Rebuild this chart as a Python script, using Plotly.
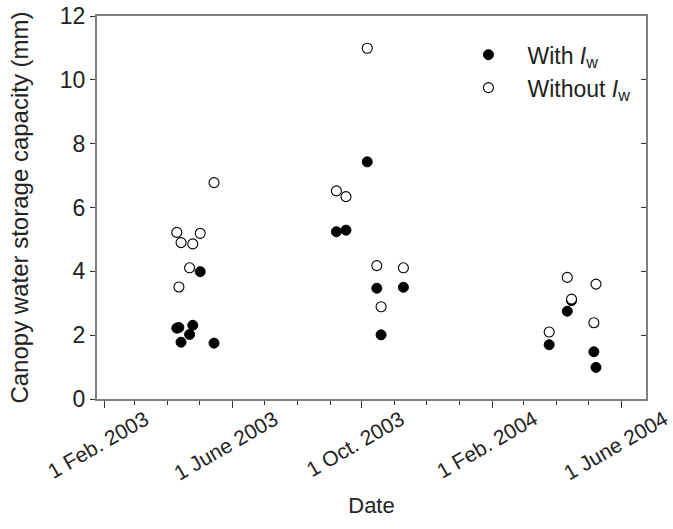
import plotly.graph_objects as go

# Sampling dates (paired: same date has a value with and without Iw)
dates = ["2003-04-10", "2003-04-12", "2003-04-14", "2003-04-22", "2003-04-25",
         "2003-05-02", "2003-05-15",
         "2003-09-07", "2003-09-16", "2003-10-06", "2003-10-15", "2003-10-19",
         "2003-11-09",
         "2004-03-25", "2004-04-11", "2004-04-15", "2004-05-06", "2004-05-08"]
with_iw = [2.22, 2.24, 1.78, 2.02, 2.31, 3.99, 1.75,
           5.24, 5.29, 7.43, 3.47, 2.01, 3.50,
           1.70, 2.75, 3.08, 1.48, 0.99]
without_iw = [5.22, 3.51, 4.90, 4.11, 4.86, 5.19, 6.78,
              6.52, 6.34, 10.99, 4.18, 2.89, 4.11,
              2.10, 3.81, 3.13, 2.39, 3.60]

tick_dates = ["2003-02-01", "2003-06-01", "2003-10-01", "2004-02-01", "2004-06-01"]
tick_labels = ["1 Feb. 2003", "1 June 2003", "1 Oct. 2003", "1 Feb. 2004", "1 June 2004"]
y_ticks = [0, 2, 4, 6, 8, 10, 12]

FONT = "Liberation Sans, Arial, sans-serif"
AXC = "#7f7f7f"

fig = go.Figure()
fig.add_trace(go.Scatter(
    x=dates, y=with_iw, mode="markers", name="With <i>I</i><sub>w</sub>",
    marker=dict(symbol="circle", size=10, color="black", line=dict(color="black", width=1))))
fig.add_trace(go.Scatter(
    x=dates, y=without_iw, mode="markers", name="Without <i>I</i><sub>w</sub>",
    marker=dict(symbol="circle", size=10, color="white", line=dict(color="black", width=1.1))))

for d, t in zip(tick_dates, tick_labels):
    fig.add_annotation(x=d, y=0, xref="x", yref="y", text=t, showarrow=False,
                       textangle=-30, xanchor="center", yanchor="top", yshift=-5, xshift=-6,
                       font=dict(family=FONT, size=21, color="#222"))

fig.update_layout(
    width=673, height=529,
    margin=dict(l=97, r=27, t=16, b=130, autoexpand=False),
    paper_bgcolor="white", plot_bgcolor="white",
    font=dict(family=FONT, size=22, color="#222"),
    showlegend=True,
    legend=dict(x=0.642, y=0.955, xanchor="left", yanchor="top",
                bgcolor="rgba(0,0,0,0)", font=dict(size=23), itemwidth=68,
                tracegroupgap=0),
    xaxis=dict(type="date", range=["2003-01-25", "2004-06-24"], automargin=False,
               tickvals=tick_dates, showticklabels=False,
               ticks="outside", ticklen=7, tickcolor="#333", tickwidth=1,
               showline=True, linecolor=AXC, linewidth=2, mirror=True,
               showgrid=False, zeroline=False,
               minor=dict(dtick="M1", tick0="2003-02-01", ticks="outside", ticklen=4,
                          tickcolor="#333", tickwidth=1, showgrid=False),
               title=dict(text="Date", font=dict(size=22), standoff=91)),
    yaxis=dict(range=[0, 12], tickvals=y_ticks, ticks="outside", ticklen=5, automargin=False,
               tickcolor="#333", tickwidth=1, showline=True, linecolor=AXC,
               linewidth=2, mirror=True, showgrid=False, zeroline=False,
               tickfont=dict(size=23),
               title=dict(text="Canopy water storage capacity (mm)", font=dict(size=24),
                          standoff=24)),
    yaxis2=dict(range=[0, 12], tickvals=y_ticks, overlaying="y", side="right",
                ticks="inside", ticklen=5, tickcolor="#333", showticklabels=False,
                showgrid=False, zeroline=False, showline=False, automargin=False),
)
# invisible trace to activate the right-hand inner ticks
fig.add_trace(go.Scatter(x=[dates[0]], y=[0], yaxis="y2", mode="markers",
                         marker=dict(opacity=0), showlegend=False, hoverinfo="skip"))

fig.write_html("out.html")
